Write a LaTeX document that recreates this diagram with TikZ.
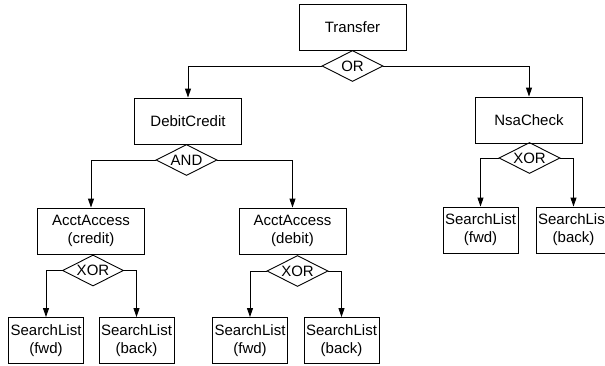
\documentclass[tikz,border=0pt]{standalone}
\usepackage{fontspec}
\setmainfont{Liberation Sans}
\usetikzlibrary{shapes.geometric,arrows.meta}
\begin{document}
\begin{tikzpicture}[x=1pt,y=-1pt,
  font=\fontsize{15}{18}\selectfont,
  box/.style={draw, line width=0.9pt, align=center, inner sep=1pt, minimum width=75pt, minimum height=46pt},
  bigbox/.style={box, minimum width=107pt},
  gate/.style={draw, line width=0.9pt, diamond, aspect=2, inner sep=0pt, minimum width=61pt, minimum height=31pt},
  link/.style={line width=0.9pt, -{Triangle[length=9pt,width=6pt]}}]
\clip (0,0) rectangle (605,365);

\node[bigbox] (transfer) at (352.5,27) {Transfer};
\node[gate] (or) at (352.5,66) {OR};
\node[bigbox] (debitcredit) at (188,121) {DebitCredit};
\node[gate] (and) at (186.5,160) {AND};
\node[bigbox] (nsacheck) at (529,120) {NsaCheck};
\node[gate] (xor3) at (529.5,158) {XOR};

\node[bigbox] (credit) at (91,231) {AcctAccess\\(credit)};
\node[gate] (xor1) at (93,270.5) {XOR};
\node[bigbox] (debit) at (292.5,231) {AcctAccess\\(debit)};
\node[gate] (xor2) at (297.5,271) {XOR};

\node[box] (fwd1) at (46,340.5) {SearchList\\(fwd)};
\node[box] (back1) at (136.5,340.5) {SearchList\\(back)};
\node[box] (fwd2) at (250,340.5) {SearchList\\(fwd)};
\node[box] (back2) at (341.5,340.5) {SearchList\\(back)};
\node[box] (fwd3) at (480.5,230) {SearchList\\(fwd)};
\node[box] (back3) at (573.5,230) {SearchList\\(back)};

\draw[link] (or.west) -| (debitcredit.north);
\draw[link] (or.east) -| (nsacheck.north);
\draw[link] (and.west) -| (credit.north);
\draw[link] (and.east) -| (debit.north);
\draw[link] (xor1.west) -| (fwd1.north);
\draw[link] (xor1.east) -| (back1.north);
\draw[link] (xor2.west) -| (fwd2.north);
\draw[link] (xor2.east) -| (back2.north);
\draw[link] (xor3.west) -| (fwd3.north);
\draw[link] (xor3.east) -| (back3.north);
\end{tikzpicture}
\end{document}
